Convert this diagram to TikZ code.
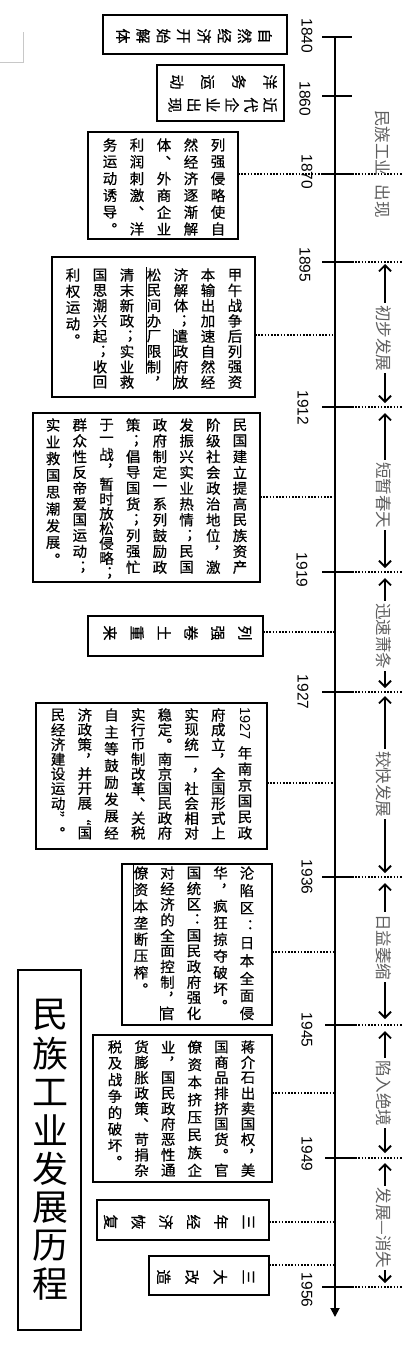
\documentclass[tikz,border=0pt]{standalone}
\usepackage{fontspec}
\usepackage{graphicx}
\usetikzlibrary{arrows.meta}
\newfontfamily\cjk{Noto Sans CJK SC}
\newfontfamily\cjkv[RawFeature=+vert,FakeBold=0.5]{Noto Sans CJK SC}
\newfontfamily\cjkh[FakeBold=0.5]{Noto Sans CJK SC}
\newfontfamily\lat{Liberation Sans}
\definecolor{phasegray}{RGB}{95,95,95}
\definecolor{cornergray}{RGB}{200,200,200}
\newdimen\vp
\newdimen\cpitch
\newcount\ncells
\newbox\vtbox
\def\vE{\vE}
\def\vY{\vY}
\def\vQo{\rotatebox{-90}{\cjkh “}}
\def\vQc{\rotatebox{-90}{\cjkh ”}}
\def\vset#1#2#3{\vp=#1\relax\cpitch=#2\relax\ncells=#3\relax}
\def\vgap{\vskip 0pt plus 1fil minus 2pt}
\def\vcolloop#1{%
  \ifx#1\relax
  \else
    \ifx#1\vE\vskip 0pt plus 1fill
    \else\ifx#1\vY\vgap\vbox{\hbox to 1em{\hss\rotatebox{-90}{\lat\fontsize{14.5}{14.5}\selectfont 1927}\hss}\kern 4.5pt}%
    \else\vgap\vbox to\vp{\vss\hbox to 1em{\hss#1\hss}\vss}%
    \fi\fi
    \expandafter\vcolloop
  \fi}
\def\vtextloop#1{%
  \if\relax\detokenize{#1}\relax
  \else
    \setbox\vtbox\hbox{\hbox to\cpitch{\hss\vtop to\ncells\vp{\vskip 0pt plus -1fil minus -2pt\vcolloop#1\relax}\hss}\unhbox\vtbox}%
    \expandafter\vtextloop
  \fi}
\def\vtext#1{\setbox\vtbox\hbox{}\vtextloop#1{}\box\vtbox}
\begin{document}
\begin{tikzpicture}[x=1pt,y=-1pt,
  boxf/.style={draw,line width=1.8pt,inner sep=0pt,outer sep=0pt},
  vt/.style={inner sep=0pt,outer sep=0pt,anchor=north east,font=\cjkv\fontsize{14.5}{14.5}\selectfont},
  rt/.style={rotate=-90,inner sep=0pt,align=center},
  yr/.style={rotate=-90,inner sep=0pt,font=\lat\fontsize{15.5}{15.5}\selectfont},
  tickl/.style={line width=1.8pt},
  dotc/.style={line width=1.6pt,dash pattern=on 1.6pt off 1.6pt},
  phase/.style={rotate=-90,inner sep=2pt,fill=white,text=phasegray,font=\cjk\fontsize{16.5}{16.5}\selectfont},
  parr/.style={line width=1.8pt,{Straight Barb[length=6pt,width=12pt]}-{Straight Barb[length=6pt,width=12pt]}},
  ul/.style={line width=1pt}]
\useasboundingbox (0,0) rectangle (413,1349);
\fill[white] (0,0) rectangle (413,1349);
% corner mark
\draw[cornergray,line width=0.8pt] (23,32) -- (23,62) -- (0,62);
% axis coordinates
\coordinate (axtop) at (335,37);
\coordinate (axbot) at (335,1317);
\foreach \k/\yy in {1840/37,1860/96,1870/174,1895/262,1912/407,1919/572,1927/692,1936/877,1945/1025,1949/1158,1956/1287}
  {\coordinate (y\k) at (335,\yy);}
% right dotted extensions
\foreach \k in {1870,1895,1912,1919,1927,1936,1945,1949,1956}
  {\draw[dotc] ([shift={(17,0)}]y\k) -- ([shift={(67,0)}]y\k);}
% box frames
\node[boxf,minimum width=184pt,minimum height=39pt] (b1) at (195,34.5) {};
\node[boxf,minimum width=127pt,minimum height=56pt] (b2) at (220.5,93) {};
\node[boxf,minimum width=150pt,minimum height=107pt] (b3) at (163,185.5) {};
\node[boxf,minimum width=203pt,minimum height=140pt] (b4) at (153.5,327) {};
\node[boxf,minimum width=227pt,minimum height=169pt] (b5) at (146.5,497.5) {};
\node[boxf,minimum width=175pt,minimum height=40pt] (b6) at (175.5,636) {};
\node[boxf,minimum width=231pt,minimum height=146pt] (b7) at (151.5,776) {};
\node[boxf,minimum width=150pt,minimum height=161pt] (b8) at (197,944.5) {};
\node[boxf,minimum width=179pt,minimum height=147pt] (b9) at (182.5,1108.5) {};
\node[boxf,minimum width=172pt,minimum height=40pt] (b10) at (183,1220) {};
\node[boxf,minimum width=120pt,minimum height=39pt] (b11) at (209,1275.5) {};
\node[boxf,minimum width=63pt,minimum height=360pt] (title) at (49.5,1150) {};
% connector coordinates on the axis
\coordinate (c3) at (335,174);
\coordinate (c4) at (335,335);
\coordinate (c5) at (335,497);
\coordinate (c6) at (335,632);
\coordinate (c7) at (335,783);
\coordinate (c8) at (335,952);
\coordinate (c9) at (335,1093);
\coordinate (c10) at (335,1222);
\coordinate (c11) at (335,1265);
\foreach \i in {3,...,11}
  {\draw[dotc] (b\i.east |- c\i) -- (c\i);}
% axis
\draw[line width=1.8pt,-{Triangle[length=9pt,width=9pt]}] (axtop) -- (axbot);
% ticks
\foreach \k in {1840,1860,1870,1895,1912,1919,1927,1936,1956}
  {\draw[tickl] ([shift={(-13,0)}]y\k) -- ([shift={(17,0)}]y\k);}
\foreach \k in {1945,1949}
  {\draw[tickl] ([shift={(-10,0)}]y\k) -- ([shift={(20,0)}]y\k);}
% year labels
\foreach \k/\xx/\yy in {1840/307/36,1860/305/99,1870/307/172,1895/305/265,1912/303/408,1919/302/570,1927/303/692,1936/307/877,1945/307/1030,1949/307/1154,1956/307/1290}
  {\node[yr] (lab\k) at (\xx,\yy) {\k};}
% phase arrows
\draw[parr] ([shift={(50,2)}]y1895) -- ([shift={(50,-4)}]y1912);
\draw[parr] ([shift={(50,6)}]y1912) -- ([shift={(50,-4)}]y1919);
\draw[parr] ([shift={(50,6)}]y1919) -- ([shift={(50,-4)}]y1927);
\draw[parr] ([shift={(50,4)}]y1927) -- ([shift={(50,-4)}]y1936);
\draw[parr] ([shift={(50,6)}]y1936) -- ([shift={(50,-6)}]y1945);
\draw[parr] ([shift={(50,6)}]y1945) -- ([shift={(50,-5)}]y1949);
\draw[parr] ([shift={(50,5)}]y1949) -- ([shift={(50,-4)}]y1956);
% phase labels
\node[phase,fill=none] (ph0) at (383,164) {民族工业\hspace{0.5em}出现};
\node[phase] (ph1) at (384,338) {初步发展};
\node[phase] (ph2) at (384,495) {短暂春天};
\node[phase] (ph3) at (384,636) {迅速萧条};
\node[phase] (ph4) at (384,784) {较快发展};
\node[phase] (ph5) at (384,947) {日益萎缩};
\node[phase] (ph6) at (384,1093) {陷入绝境};
\node[phase] (ph7) at (384,1228) {发展—消失};
% rotated short texts
\node[rt,font=\cjkh\fontsize{15}{20.3}\selectfont] (r1) at (194,36) {自\\然\\经\\济\\开\\始\\解\\体};
\node[rt,font=\cjkh\fontsize{15}{31}\selectfont] (r2a) at (223.5,82) {洋\\务\\运\\动};
\node[rt,font=\cjkh\fontsize{15}{19}\selectfont] (r2b) at (222.5,105) {近\\代\\企\\业\\出\\现};
\node[rt,font=\cjkh\fontsize{15}{27}\selectfont] (r6) at (177.5,633) {列\\强\\卷\\土\\重\\来};
\node[rt,font=\cjkh\fontsize{15}{27.6}\selectfont] (r10) at (179,1222) {三\\年\\经\\济\\恢\\复};
\node[rt,font=\cjkh\fontsize{15}{28.3}\selectfont] (r11) at (205.5,1277) {三\\大\\改\\造};
% vertical texts
\node[vt] (t3) at (231.5,136.6) {\vset{16.8pt}{27pt}{6}\vtext{{列强侵略使自}{然经济逐渐解}{体、外商企业}{利润刺激、洋}{务运动诱导。\vE}}};
\node[vt] (t4) at (248.5,267.35) {\vset{15.3pt}{27pt}{8}\vtext{{甲午战争后列强资}{本输出加速自然经}{济解体；遣政府放}{松民间办厂限制，}{清末新政；实业救}{国思潮兴起；收回}{利权运动。\vE}}};
\node[vt] (t5) at (253.35,417.1) {\vset{15.8pt}{26.7pt}{10}\vtext{{民国建立提高民族资产}{阶级社会政治地位，激}{发振兴实业热情；民国}{政府制定一系列鼓励政}{策；倡导国货；列强忙}{于一战，暂时放松侵略；}{群众性反帝爱国运动；}{实业救国思潮发展。\vE}}};
\node[vt] (t7) at (258.35,707.6) {\vset{14.75pt}{26.7pt}{9}\vtext{{\vY 年南京国民政}{府成立，全国形式上}{实现统一，社会相对}{稳定。南京国民政府}{实行币制改革、关税}{自主等鼓励发展经}{济政策，并开展\vQo 国}{民经济建设运动\vQc 。\vE}}};
\node[vt] (t8) at (260.25,865.2) {\vset{15.6pt}{26.5pt}{10}\vtext{{沦陷区：日本全面侵}{华，疯狂掠夺破坏。\vE}{国统区：国民政府强化}{对经济的全面控制，官}{僚资本垄断压榨。\vE}}};
\node[vt] (t9) at (261.3,1039.3) {\vset{15.4pt}{26.6pt}{9}\vtext{{蒋介石出卖国权，美}{国商品排挤国货。官}{僚资本挤压民族企}{业，国民政府恶性通}{货膨胀政策、苛捐杂}{税及战争的破坏。\vE}}};
\node[vt,anchor=north,font=\cjk\fontsize{36}{36}\selectfont] (tt) at (50,995.75) {\vset{38.5pt}{50pt}{8}\vtext{{民族工业发展历程}}};
% underlines
\draw[ul] (173.5,328.5) -- (173.5,389.7);
\draw[ul] (146.5,267.4) -- (146.5,374.4);
\draw[ul] (160,1005.6) -- (160,1021.2);
\draw[ul] (133.5,865.2) -- (133.5,912);
\end{tikzpicture}
\end{document}
